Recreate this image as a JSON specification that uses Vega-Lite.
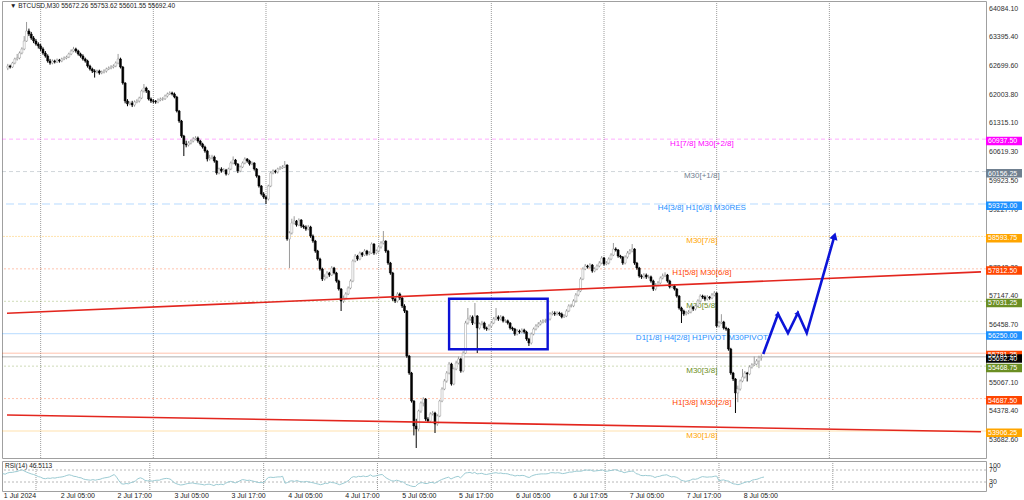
{
"$schema":"https://vega.github.io/schema/vega-lite/v6.json",
"padding":{"left":0,"top":0,"right":4,"bottom":2},"background":"white","spacing":1,
"config":{"view":{"stroke":"#a0a0a0","strokeWidth":1},"font":"Liberation Sans",
"axis":{"disable":true},
"text":{"font":"Liberation Sans"}},
"datasets":{
"days":[{"t":"2024-07-02T00:00Z"},{"t":"2024-07-03T00:00Z"},{"t":"2024-07-04T00:00Z"},{"t":"2024-07-05T00:00Z"},{"t":"2024-07-06T00:00Z"},{"t":"2024-07-07T00:00Z"},{"t":"2024-07-08T00:00Z"},{"t":"2024-07-09T00:00Z"}],
"xlabels":[{"t":"2024-07-01T17:00Z","lab":"1 Jul 2024"},{"t":"2024-07-02T05:00Z","lab":"2 Jul 05:00"},{"t":"2024-07-02T17:00Z","lab":"2 Jul 17:00"},{"t":"2024-07-03T05:00Z","lab":"3 Jul 05:00"},{"t":"2024-07-03T17:00Z","lab":"3 Jul 17:00"},{"t":"2024-07-04T05:00Z","lab":"4 Jul 05:00"},{"t":"2024-07-04T17:00Z","lab":"4 Jul 17:00"},{"t":"2024-07-05T05:00Z","lab":"5 Jul 05:00"},{"t":"2024-07-05T17:00Z","lab":"5 Jul 17:00"},{"t":"2024-07-06T05:00Z","lab":"6 Jul 05:00"},{"t":"2024-07-06T17:05Z","lab":"6 Jul 17:05"},{"t":"2024-07-07T05:00Z","lab":"7 Jul 05:00"},{"t":"2024-07-07T17:00Z","lab":"7 Jul 17:00"},{"t":"2024-07-08T05:00Z","lab":"8 Jul 05:00"}],
"yticks":[{"v":64084.1},{"v":63395.4},{"v":62699.6},{"v":62003.8},{"v":61315.1},{"v":60619.3},{"v":59923.5},{"v":59227.7},{"v":58531.9},{"v":57842.2},{"v":57147.4},{"v":56458.7},{"v":55762.9},{"v":55067.1},{"v":54378.4},{"v":53682.6}],
"levels":[
{"key":"m+2","price":60937.5,"tag":"60937.50","name":"H1[7/8] M30[+2/8]"},
{"key":"m+1","price":60156.25,"tag":"60156.25","name":"M30[+1/8]"},
{"key":"m8","price":59375,"tag":"59375.00","name":"H4[3/8] H1[6/8] M30RES"},
{"key":"m7","price":58593.75,"tag":"58593.75","name":"M30[7/8]"},
{"key":"m6","price":57812.5,"tag":"57812.50","name":"H1[5/8] M30[6/8]"},
{"key":"m5","price":57031.25,"tag":"57031.25","name":"M30[5/8]"},
{"key":"m4","price":56250,"tag":"56250.00","name":"D1[1/8] H4[2/8] H1PIVOT M30PIVOT"},
{"key":"h4","price":55781.25,"tag":"55781.25","name":""},
{"key":"m3","price":55468.75,"tag":"55468.75","name":"M30[3/8]"},
{"key":"m2","price":54687.5,"tag":"54687.50","name":"H1[3/8] M30[2/8]"},
{"key":"m1","price":53906.25,"tag":"53906.25","name":"M30[1/8]"},
{"key":"bid","price":55692.4,"tag":"55692.40","name":""}],
"trend":[{"g":"u","t":"2024-07-01T16:50Z","p":56744},{"g":"u","t":"2024-07-10T08:18Z","p":57739},{"g":"l","t":"2024-07-01T16:50Z","p":54292},{"g":"l","t":"2024-07-10T08:18Z","p":53889}],
"box":[{"t":"2024-07-05T15:00Z","t2":"2024-07-06T12:00Z","p":57093,"p2":55875}],
"arrow":[{"k":1,"t":"2024-07-08T09:55Z","p":55761,"head":""},{"k":2,"t":"2024-07-08T13:04Z","p":56725,"head":"a"},{"k":3,"t":"2024-07-08T15:11Z","p":56267,"head":""},{"k":4,"t":"2024-07-08T17:17Z","p":56749,"head":"b"},{"k":5,"t":"2024-07-08T19:11Z","p":56267,"head":""},{"k":6,"t":"2024-07-09T01:05Z","p":58604,"head":"c"}],
"bars":[
{"t":"2024-07-01T17:00Z","o":62650,"h":62750,"l":62600,"c":62699,"r":58},
{"t":"2024-07-01T17:30Z","o":62699,"h":62730,"l":62640,"c":62675,"r":56},
{"t":"2024-07-01T18:00Z","o":62675,"h":62800,"l":62650,"c":62771,"r":60},
{"t":"2024-07-01T18:30Z","o":62771,"h":62900,"l":62740,"c":62868,"r":62},
{"t":"2024-07-01T19:00Z","o":62868,"h":62990,"l":62830,"c":62892,"r":62},
{"t":"2024-07-01T19:30Z","o":62892,"h":63050,"l":62860,"c":63012,"r":64},
{"t":"2024-07-01T20:00Z","o":63012,"h":63150,"l":62980,"c":63109,"r":65},
{"t":"2024-07-01T20:30Z","o":63109,"h":63420,"l":63080,"c":63301,"r":68},
{"t":"2024-07-01T21:00Z","o":63301,"h":63760,"l":63280,"c":63542,"r":71},
{"t":"2024-07-01T21:30Z","o":63542,"h":63600,"l":63420,"c":63470,"r":67},
{"t":"2024-07-01T22:00Z","o":63470,"h":63520,"l":63330,"c":63374,"r":63},
{"t":"2024-07-01T22:30Z","o":63374,"h":63420,"l":63250,"c":63301,"r":60},
{"t":"2024-07-01T23:00Z","o":63301,"h":63350,"l":63190,"c":63229,"r":57},
{"t":"2024-07-01T23:30Z","o":63229,"h":63270,"l":63120,"c":63181,"r":55},
{"t":"2024-07-02T00:00Z","o":63181,"h":63230,"l":63060,"c":63109,"r":52},
{"t":"2024-07-02T00:30Z","o":63109,"h":63150,"l":62970,"c":63012,"r":48},
{"t":"2024-07-02T01:00Z","o":63012,"h":63060,"l":62900,"c":62940,"r":46},
{"t":"2024-07-02T01:30Z","o":62940,"h":62980,"l":62780,"c":62820,"r":42},
{"t":"2024-07-02T02:00Z","o":62820,"h":62870,"l":62730,"c":62771,"r":41},
{"t":"2024-07-02T02:30Z","o":62771,"h":62860,"l":62740,"c":62820,"r":43},
{"t":"2024-07-02T03:00Z","o":62820,"h":62850,"l":62760,"c":62796,"r":42},
{"t":"2024-07-02T03:30Z","o":62796,"h":62880,"l":62770,"c":62844,"r":44},
{"t":"2024-07-02T04:00Z","o":62844,"h":62870,"l":62780,"c":62820,"r":43},
{"t":"2024-07-02T04:30Z","o":62820,"h":62900,"l":62790,"c":62868,"r":45},
{"t":"2024-07-02T05:00Z","o":62868,"h":62930,"l":62840,"c":62892,"r":46},
{"t":"2024-07-02T05:30Z","o":62892,"h":62950,"l":62860,"c":62916,"r":47},
{"t":"2024-07-02T06:00Z","o":62916,"h":63020,"l":62890,"c":62988,"r":49},
{"t":"2024-07-02T06:30Z","o":62988,"h":63100,"l":62960,"c":63061,"r":52},
{"t":"2024-07-02T07:00Z","o":63061,"h":63160,"l":63030,"c":63109,"r":54},
{"t":"2024-07-02T07:30Z","o":63109,"h":63140,"l":63020,"c":63061,"r":52},
{"t":"2024-07-02T08:00Z","o":63061,"h":63090,"l":62950,"c":62988,"r":49},
{"t":"2024-07-02T08:30Z","o":62988,"h":63020,"l":62900,"c":62940,"r":48},
{"t":"2024-07-02T09:00Z","o":62940,"h":62980,"l":62830,"c":62868,"r":45},
{"t":"2024-07-02T09:30Z","o":62868,"h":62900,"l":62780,"c":62820,"r":44},
{"t":"2024-07-02T10:00Z","o":62820,"h":62850,"l":62660,"c":62699,"r":40},
{"t":"2024-07-02T10:30Z","o":62699,"h":62730,"l":62590,"c":62627,"r":38},
{"t":"2024-07-02T11:00Z","o":62627,"h":62660,"l":62530,"c":62579,"r":37},
{"t":"2024-07-02T11:30Z","o":62579,"h":62620,"l":62420,"c":62555,"r":36},
{"t":"2024-07-02T12:00Z","o":62555,"h":62610,"l":62520,"c":62579,"r":38},
{"t":"2024-07-02T12:30Z","o":62579,"h":62610,"l":62490,"c":62531,"r":36},
{"t":"2024-07-02T13:00Z","o":62531,"h":62590,"l":62500,"c":62555,"r":38},
{"t":"2024-07-02T13:30Z","o":62555,"h":62620,"l":62520,"c":62579,"r":39},
{"t":"2024-07-02T14:00Z","o":62579,"h":62660,"l":62540,"c":62627,"r":42},
{"t":"2024-07-02T14:30Z","o":62627,"h":62690,"l":62600,"c":62651,"r":44},
{"t":"2024-07-02T15:00Z","o":62651,"h":62720,"l":62620,"c":62675,"r":45},
{"t":"2024-07-02T15:30Z","o":62675,"h":62740,"l":62640,"c":62699,"r":47},
{"t":"2024-07-02T16:00Z","o":62699,"h":62810,"l":62670,"c":62771,"r":51},
{"t":"2024-07-02T16:30Z","o":62771,"h":62990,"l":62740,"c":62868,"r":55},
{"t":"2024-07-02T17:00Z","o":62868,"h":62900,"l":62640,"c":62675,"r":46},
{"t":"2024-07-02T17:30Z","o":62675,"h":62700,"l":62250,"c":62290,"r":34},
{"t":"2024-07-02T18:00Z","o":62290,"h":62310,"l":61800,"c":61856,"r":24},
{"t":"2024-07-02T18:30Z","o":61856,"h":61900,"l":61730,"c":61784,"r":23},
{"t":"2024-07-02T19:00Z","o":61784,"h":61850,"l":61750,"c":61808,"r":25},
{"t":"2024-07-02T19:30Z","o":61808,"h":61860,"l":61710,"c":61760,"r":24},
{"t":"2024-07-02T20:00Z","o":61760,"h":61870,"l":61720,"c":61832,"r":28},
{"t":"2024-07-02T20:30Z","o":61832,"h":61900,"l":61800,"c":61856,"r":30},
{"t":"2024-07-02T21:00Z","o":61856,"h":61960,"l":61820,"c":61928,"r":34},
{"t":"2024-07-02T21:30Z","o":61928,"h":62130,"l":61900,"c":62097,"r":41},
{"t":"2024-07-02T22:00Z","o":62097,"h":62265,"l":62060,"c":62169,"r":44},
{"t":"2024-07-02T22:30Z","o":62169,"h":62200,"l":62050,"c":62097,"r":41},
{"t":"2024-07-02T23:00Z","o":62097,"h":62120,"l":61870,"c":61904,"r":35},
{"t":"2024-07-02T23:30Z","o":61904,"h":61940,"l":61810,"c":61856,"r":34},
{"t":"2024-07-03T00:00Z","o":61856,"h":61900,"l":61800,"c":61850,"r":34},
{"t":"2024-07-03T00:30Z","o":61850,"h":61880,"l":61790,"c":61832,"r":33},
{"t":"2024-07-03T01:00Z","o":61832,"h":61920,"l":61800,"c":61880,"r":35},
{"t":"2024-07-03T01:30Z","o":61880,"h":61940,"l":61850,"c":61904,"r":36},
{"t":"2024-07-03T02:00Z","o":61904,"h":61950,"l":61860,"c":61910,"r":36},
{"t":"2024-07-03T02:30Z","o":61910,"h":62010,"l":61880,"c":61976,"r":39},
{"t":"2024-07-03T03:00Z","o":61976,"h":62060,"l":61940,"c":62025,"r":41},
{"t":"2024-07-03T03:30Z","o":62025,"h":62090,"l":62000,"c":62049,"r":42},
{"t":"2024-07-03T04:00Z","o":62049,"h":62080,"l":61990,"c":62025,"r":41},
{"t":"2024-07-03T04:30Z","o":62025,"h":62060,"l":61920,"c":61952,"r":38},
{"t":"2024-07-03T05:00Z","o":61952,"h":61980,"l":61580,"c":61615,"r":29},
{"t":"2024-07-03T05:30Z","o":61615,"h":61640,"l":61330,"c":61374,"r":25},
{"t":"2024-07-03T06:00Z","o":61374,"h":61400,"l":60970,"c":61013,"r":22},
{"t":"2024-07-03T06:30Z","o":61013,"h":61040,"l":60530,"c":60820,"r":20},
{"t":"2024-07-03T07:00Z","o":60820,"h":60900,"l":60740,"c":60796,"r":21},
{"t":"2024-07-03T07:30Z","o":60796,"h":60890,"l":60760,"c":60844,"r":23},
{"t":"2024-07-03T08:00Z","o":60844,"h":60930,"l":60810,"c":60892,"r":25},
{"t":"2024-07-03T08:30Z","o":60892,"h":60990,"l":60860,"c":60941,"r":26},
{"t":"2024-07-03T09:00Z","o":60941,"h":61010,"l":60910,"c":60965,"r":27},
{"t":"2024-07-03T09:30Z","o":60965,"h":61000,"l":60850,"c":60892,"r":25},
{"t":"2024-07-03T10:00Z","o":60892,"h":60920,"l":60780,"c":60820,"r":24},
{"t":"2024-07-03T10:30Z","o":60820,"h":60850,"l":60710,"c":60748,"r":23},
{"t":"2024-07-03T11:00Z","o":60748,"h":60780,"l":60610,"c":60652,"r":22},
{"t":"2024-07-03T11:30Z","o":60652,"h":60680,"l":60400,"c":60459,"r":20},
{"t":"2024-07-03T12:00Z","o":60459,"h":60560,"l":60420,"c":60483,"r":22},
{"t":"2024-07-03T12:30Z","o":60483,"h":60560,"l":60450,"c":60507,"r":23},
{"t":"2024-07-03T13:00Z","o":60507,"h":60540,"l":60370,"c":60411,"r":21},
{"t":"2024-07-03T13:30Z","o":60411,"h":60430,"l":60080,"c":60122,"r":18},
{"t":"2024-07-03T14:00Z","o":60122,"h":60250,"l":60090,"c":60218,"r":22},
{"t":"2024-07-03T14:30Z","o":60218,"h":60260,"l":60130,"c":60170,"r":21},
{"t":"2024-07-03T15:00Z","o":60170,"h":60240,"l":60140,"c":60194,"r":23},
{"t":"2024-07-03T15:30Z","o":60194,"h":60220,"l":60060,"c":60097,"r":21},
{"t":"2024-07-03T16:00Z","o":60097,"h":60250,"l":60070,"c":60218,"r":26},
{"t":"2024-07-03T16:30Z","o":60218,"h":60400,"l":60190,"c":60362,"r":30},
{"t":"2024-07-03T17:00Z","o":60362,"h":60520,"l":60330,"c":60435,"r":32},
{"t":"2024-07-03T17:30Z","o":60435,"h":60460,"l":60300,"c":60338,"r":30},
{"t":"2024-07-03T18:00Z","o":60338,"h":60360,"l":60120,"c":60170,"r":27},
{"t":"2024-07-03T18:30Z","o":60170,"h":60300,"l":60140,"c":60266,"r":30},
{"t":"2024-07-03T19:00Z","o":60266,"h":60400,"l":60240,"c":60362,"r":34},
{"t":"2024-07-03T19:30Z","o":60362,"h":60500,"l":60330,"c":60459,"r":38},
{"t":"2024-07-03T20:00Z","o":60459,"h":60480,"l":60370,"c":60411,"r":37},
{"t":"2024-07-03T20:30Z","o":60411,"h":60440,"l":60300,"c":60338,"r":35},
{"t":"2024-07-03T21:00Z","o":60338,"h":60400,"l":60310,"c":60362,"r":36},
{"t":"2024-07-03T21:30Z","o":60362,"h":60380,"l":60180,"c":60218,"r":34},
{"t":"2024-07-03T22:00Z","o":60218,"h":60240,"l":60010,"c":60049,"r":32},
{"t":"2024-07-03T22:30Z","o":60049,"h":60070,"l":59770,"c":59808,"r":30},
{"t":"2024-07-03T23:00Z","o":59808,"h":59830,"l":59580,"c":59616,"r":28},
{"t":"2024-07-03T23:30Z","o":59616,"h":59660,"l":59500,"c":59543,"r":28},
{"t":"2024-07-04T00:00Z","o":59543,"h":59580,"l":59375,"c":59495,"r":28},
{"t":"2024-07-04T00:30Z","o":59495,"h":59840,"l":59460,"c":59808,"r":38},
{"t":"2024-07-04T01:00Z","o":59808,"h":60160,"l":59780,"c":60122,"r":45},
{"t":"2024-07-04T01:30Z","o":60122,"h":60210,"l":60090,"c":60170,"r":46},
{"t":"2024-07-04T02:00Z","o":60170,"h":60200,"l":60110,"c":60146,"r":45},
{"t":"2024-07-04T02:30Z","o":60146,"h":60250,"l":60110,"c":60218,"r":46},
{"t":"2024-07-04T03:00Z","o":60218,"h":60290,"l":60200,"c":60242,"r":47},
{"t":"2024-07-04T03:30Z","o":60242,"h":60310,"l":60220,"c":60266,"r":47},
{"t":"2024-07-04T04:00Z","o":60266,"h":60410,"l":60240,"c":60314,"r":49},
{"t":"2024-07-04T04:30Z","o":60314,"h":60330,"l":58490,"c":58532,"r":26},
{"t":"2024-07-04T05:00Z","o":58532,"h":58720,"l":57833,"c":58676,"r":28},
{"t":"2024-07-04T05:30Z","o":58676,"h":59020,"l":58640,"c":58917,"r":33},
{"t":"2024-07-04T06:00Z","o":58917,"h":59080,"l":58880,"c":58965,"r":34},
{"t":"2024-07-04T06:30Z","o":58965,"h":58990,"l":58830,"c":58869,"r":32},
{"t":"2024-07-04T07:00Z","o":58869,"h":59030,"l":58840,"c":58989,"r":35},
{"t":"2024-07-04T07:30Z","o":58989,"h":59010,"l":58800,"c":58845,"r":32},
{"t":"2024-07-04T08:00Z","o":58845,"h":58880,"l":58780,"c":58821,"r":31},
{"t":"2024-07-04T08:30Z","o":58821,"h":58860,"l":58730,"c":58772,"r":30},
{"t":"2024-07-04T09:00Z","o":58772,"h":58870,"l":58740,"c":58821,"r":32},
{"t":"2024-07-04T09:30Z","o":58821,"h":58850,"l":58560,"c":58604,"r":30},
{"t":"2024-07-04T10:00Z","o":58604,"h":58640,"l":58440,"c":58483,"r":29},
{"t":"2024-07-04T10:30Z","o":58483,"h":58510,"l":58200,"c":58243,"r":27},
{"t":"2024-07-04T11:00Z","o":58243,"h":58270,"l":58010,"c":58050,"r":25},
{"t":"2024-07-04T11:30Z","o":58050,"h":58080,"l":57770,"c":57809,"r":23},
{"t":"2024-07-04T12:00Z","o":57809,"h":57840,"l":57520,"c":57568,"r":21},
{"t":"2024-07-04T12:30Z","o":57568,"h":57680,"l":57530,"c":57616,"r":23},
{"t":"2024-07-04T13:00Z","o":57616,"h":57760,"l":57580,"c":57713,"r":26},
{"t":"2024-07-04T13:30Z","o":57713,"h":57740,"l":57620,"c":57664,"r":25},
{"t":"2024-07-04T14:00Z","o":57664,"h":57880,"l":57640,"c":57833,"r":30},
{"t":"2024-07-04T14:30Z","o":57833,"h":57860,"l":57680,"c":57713,"r":28},
{"t":"2024-07-04T15:00Z","o":57713,"h":57740,"l":57480,"c":57520,"r":27},
{"t":"2024-07-04T15:30Z","o":57520,"h":57550,"l":57290,"c":57327,"r":24},
{"t":"2024-07-04T16:00Z","o":57327,"h":57350,"l":56797,"c":57038,"r":21},
{"t":"2024-07-04T16:30Z","o":57038,"h":57170,"l":56990,"c":57110,"r":24},
{"t":"2024-07-04T17:00Z","o":57110,"h":57250,"l":57080,"c":57207,"r":27},
{"t":"2024-07-04T17:30Z","o":57207,"h":57390,"l":57180,"c":57351,"r":31},
{"t":"2024-07-04T18:00Z","o":57351,"h":57560,"l":57320,"c":57520,"r":36},
{"t":"2024-07-04T18:30Z","o":57520,"h":58040,"l":57490,"c":58002,"r":45},
{"t":"2024-07-04T19:00Z","o":58002,"h":58170,"l":57970,"c":58122,"r":48},
{"t":"2024-07-04T19:30Z","o":58122,"h":58150,"l":58010,"c":58050,"r":46},
{"t":"2024-07-04T20:00Z","o":58050,"h":58230,"l":58020,"c":58194,"r":49},
{"t":"2024-07-04T20:30Z","o":58194,"h":58220,"l":58100,"c":58146,"r":48},
{"t":"2024-07-04T21:00Z","o":58146,"h":58290,"l":58120,"c":58243,"r":50},
{"t":"2024-07-04T21:30Z","o":58243,"h":58270,"l":58130,"c":58170,"r":48},
{"t":"2024-07-04T22:00Z","o":58170,"h":58240,"l":58140,"c":58194,"r":49},
{"t":"2024-07-04T22:30Z","o":58194,"h":58450,"l":58170,"c":58411,"r":54},
{"t":"2024-07-04T23:00Z","o":58411,"h":58430,"l":58150,"c":58194,"r":49},
{"t":"2024-07-04T23:30Z","o":58194,"h":58280,"l":58160,"c":58243,"r":50},
{"t":"2024-07-05T00:00Z","o":58243,"h":58380,"l":58210,"c":58339,"r":52},
{"t":"2024-07-05T00:30Z","o":58339,"h":58480,"l":58300,"c":58435,"r":54},
{"t":"2024-07-05T01:00Z","o":58435,"h":58724,"l":58400,"c":58483,"r":55},
{"t":"2024-07-05T01:30Z","o":58483,"h":58500,"l":58200,"c":58243,"r":48},
{"t":"2024-07-05T02:00Z","o":58243,"h":58270,"l":57910,"c":57953,"r":42},
{"t":"2024-07-05T02:30Z","o":57953,"h":57980,"l":57670,"c":57713,"r":38},
{"t":"2024-07-05T03:00Z","o":57713,"h":57740,"l":57040,"c":57086,"r":34},
{"t":"2024-07-05T03:30Z","o":57086,"h":57120,"l":56990,"c":57038,"r":33},
{"t":"2024-07-05T04:00Z","o":57038,"h":57250,"l":57000,"c":57207,"r":36},
{"t":"2024-07-05T04:30Z","o":57207,"h":57240,"l":57060,"c":57110,"r":34},
{"t":"2024-07-05T05:00Z","o":57110,"h":57140,"l":56870,"c":56918,"r":31},
{"t":"2024-07-05T05:30Z","o":56918,"h":56960,"l":56750,"c":56797,"r":30},
{"t":"2024-07-05T06:00Z","o":56797,"h":56820,"l":55670,"c":55713,"r":22},
{"t":"2024-07-05T06:30Z","o":55713,"h":55740,"l":55260,"c":55304,"r":20},
{"t":"2024-07-05T07:00Z","o":55304,"h":55330,"l":54590,"c":54629,"r":17},
{"t":"2024-07-05T07:30Z","o":54629,"h":54650,"l":53800,"c":54027,"r":15},
{"t":"2024-07-05T08:00Z","o":54027,"h":54200,"l":53497,"c":53954,"r":15},
{"t":"2024-07-05T08:30Z","o":53954,"h":54420,"l":53900,"c":54388,"r":23},
{"t":"2024-07-05T09:00Z","o":54388,"h":54620,"l":54340,"c":54581,"r":27},
{"t":"2024-07-05T09:30Z","o":54581,"h":54720,"l":54500,"c":54677,"r":28},
{"t":"2024-07-05T10:00Z","o":54677,"h":54700,"l":54150,"c":54195,"r":25},
{"t":"2024-07-05T10:30Z","o":54195,"h":54240,"l":54100,"c":54147,"r":25},
{"t":"2024-07-05T11:00Z","o":54147,"h":54360,"l":54110,"c":54316,"r":28},
{"t":"2024-07-05T11:30Z","o":54316,"h":54390,"l":54280,"c":54340,"r":29},
{"t":"2024-07-05T12:00Z","o":54340,"h":54370,"l":53858,"c":54075,"r":26},
{"t":"2024-07-05T12:30Z","o":54075,"h":54310,"l":54030,"c":54268,"r":29},
{"t":"2024-07-05T13:00Z","o":54268,"h":54660,"l":54240,"c":54629,"r":34},
{"t":"2024-07-05T13:30Z","o":54629,"h":54960,"l":54600,"c":54918,"r":38},
{"t":"2024-07-05T14:00Z","o":54918,"h":55160,"l":54890,"c":55111,"r":41},
{"t":"2024-07-05T14:30Z","o":55111,"h":55350,"l":55070,"c":55304,"r":44},
{"t":"2024-07-05T15:00Z","o":55304,"h":55570,"l":55270,"c":55520,"r":46},
{"t":"2024-07-05T15:30Z","o":55520,"h":55550,"l":55000,"c":55039,"r":40},
{"t":"2024-07-05T16:00Z","o":55039,"h":55440,"l":55010,"c":55400,"r":44},
{"t":"2024-07-05T16:30Z","o":55400,"h":55600,"l":55370,"c":55544,"r":47},
{"t":"2024-07-05T17:00Z","o":55544,"h":55700,"l":55510,"c":55641,"r":49},
{"t":"2024-07-05T17:30Z","o":55641,"h":55670,"l":55310,"c":55352,"r":44},
{"t":"2024-07-05T18:00Z","o":55352,"h":55830,"l":55320,"c":55785,"r":51},
{"t":"2024-07-05T18:30Z","o":55785,"h":56560,"l":55760,"c":56508,"r":60},
{"t":"2024-07-05T19:00Z","o":56508,"h":56869,"l":56470,"c":56604,"r":61},
{"t":"2024-07-05T19:30Z","o":56604,"h":56700,"l":56560,"c":56653,"r":62},
{"t":"2024-07-05T20:00Z","o":56653,"h":56690,"l":56460,"c":56508,"r":59},
{"t":"2024-07-05T20:30Z","o":56508,"h":56990,"l":56480,"c":56677,"r":62},
{"t":"2024-07-05T21:00Z","o":56677,"h":56700,"l":55785,"c":56388,"r":57},
{"t":"2024-07-05T21:30Z","o":56388,"h":56520,"l":56350,"c":56484,"r":58},
{"t":"2024-07-05T22:00Z","o":56484,"h":56560,"l":56450,"c":56508,"r":59},
{"t":"2024-07-05T22:30Z","o":56508,"h":56540,"l":56350,"c":56388,"r":56},
{"t":"2024-07-05T23:00Z","o":56388,"h":56420,"l":56320,"c":56363,"r":55},
{"t":"2024-07-05T23:30Z","o":56363,"h":56480,"l":56330,"c":56436,"r":57},
{"t":"2024-07-06T00:00Z","o":56436,"h":56550,"l":56400,"c":56508,"r":58},
{"t":"2024-07-06T00:30Z","o":56508,"h":56650,"l":56480,"c":56604,"r":60},
{"t":"2024-07-06T01:00Z","o":56604,"h":56870,"l":56570,"c":56653,"r":61},
{"t":"2024-07-06T01:30Z","o":56653,"h":56690,"l":56560,"c":56604,"r":59},
{"t":"2024-07-06T02:00Z","o":56604,"h":56700,"l":56570,"c":56653,"r":60},
{"t":"2024-07-06T02:30Z","o":56653,"h":56680,"l":56520,"c":56556,"r":58},
{"t":"2024-07-06T03:00Z","o":56556,"h":56600,"l":56510,"c":56560,"r":58},
{"t":"2024-07-06T03:30Z","o":56560,"h":56590,"l":56470,"c":56508,"r":57},
{"t":"2024-07-06T04:00Z","o":56508,"h":56530,"l":56350,"c":56388,"r":54},
{"t":"2024-07-06T04:30Z","o":56388,"h":56420,"l":56320,"c":56363,"r":53},
{"t":"2024-07-06T05:00Z","o":56363,"h":56390,"l":56200,"c":56243,"r":50},
{"t":"2024-07-06T05:30Z","o":56243,"h":56360,"l":56210,"c":56315,"r":52},
{"t":"2024-07-06T06:00Z","o":56315,"h":56350,"l":56250,"c":56291,"r":51},
{"t":"2024-07-06T06:30Z","o":56291,"h":56380,"l":56260,"c":56339,"r":52},
{"t":"2024-07-06T07:00Z","o":56339,"h":56370,"l":56250,"c":56291,"r":51},
{"t":"2024-07-06T07:30Z","o":56291,"h":56320,"l":56080,"c":56123,"r":47},
{"t":"2024-07-06T08:00Z","o":56123,"h":56150,"l":55954,"c":56026,"r":45},
{"t":"2024-07-06T08:30Z","o":56026,"h":56280,"l":55990,"c":56243,"r":50},
{"t":"2024-07-06T09:00Z","o":56243,"h":56400,"l":56210,"c":56363,"r":53},
{"t":"2024-07-06T09:30Z","o":56363,"h":56480,"l":56330,"c":56436,"r":55},
{"t":"2024-07-06T10:00Z","o":56436,"h":56530,"l":56400,"c":56484,"r":56},
{"t":"2024-07-06T10:30Z","o":56484,"h":56580,"l":56450,"c":56532,"r":57},
{"t":"2024-07-06T11:00Z","o":56532,"h":56600,"l":56500,"c":56556,"r":57},
{"t":"2024-07-06T11:30Z","o":56556,"h":56610,"l":56510,"c":56560,"r":57},
{"t":"2024-07-06T12:00Z","o":56560,"h":56650,"l":56520,"c":56604,"r":58},
{"t":"2024-07-06T12:30Z","o":56604,"h":56770,"l":56570,"c":56725,"r":61},
{"t":"2024-07-06T13:00Z","o":56725,"h":56800,"l":56690,"c":56749,"r":61},
{"t":"2024-07-06T13:30Z","o":56749,"h":56790,"l":56680,"c":56725,"r":60},
{"t":"2024-07-06T14:00Z","o":56725,"h":56790,"l":56690,"c":56749,"r":61},
{"t":"2024-07-06T14:30Z","o":56749,"h":56780,"l":56680,"c":56725,"r":60},
{"t":"2024-07-06T15:00Z","o":56725,"h":56760,"l":56620,"c":56653,"r":58},
{"t":"2024-07-06T15:30Z","o":56653,"h":56720,"l":56630,"c":56677,"r":59},
{"t":"2024-07-06T16:00Z","o":56677,"h":56840,"l":56650,"c":56797,"r":61},
{"t":"2024-07-06T16:30Z","o":56797,"h":56960,"l":56770,"c":56918,"r":63},
{"t":"2024-07-06T17:00Z","o":56918,"h":56970,"l":56880,"c":56920,"r":63},
{"t":"2024-07-06T17:30Z","o":56920,"h":57080,"l":56890,"c":57038,"r":65},
{"t":"2024-07-06T18:00Z","o":57038,"h":57230,"l":57000,"c":57183,"r":66},
{"t":"2024-07-06T18:30Z","o":57183,"h":57320,"l":57150,"c":57279,"r":66},
{"t":"2024-07-06T19:00Z","o":57279,"h":57610,"l":57250,"c":57568,"r":66},
{"t":"2024-07-06T19:30Z","o":57568,"h":57850,"l":57540,"c":57809,"r":69},
{"t":"2024-07-06T20:00Z","o":57809,"h":57930,"l":57780,"c":57881,"r":70},
{"t":"2024-07-06T20:30Z","o":57881,"h":57910,"l":57820,"c":57857,"r":69},
{"t":"2024-07-06T21:00Z","o":57857,"h":57950,"l":57820,"c":57905,"r":70},
{"t":"2024-07-06T21:30Z","o":57905,"h":57930,"l":57720,"c":57761,"r":66},
{"t":"2024-07-06T22:00Z","o":57761,"h":57850,"l":57730,"c":57809,"r":67},
{"t":"2024-07-06T22:30Z","o":57809,"h":57920,"l":57780,"c":57881,"r":68},
{"t":"2024-07-06T23:00Z","o":57881,"h":58000,"l":57850,"c":57953,"r":69},
{"t":"2024-07-06T23:30Z","o":57953,"h":58120,"l":57920,"c":58074,"r":70},
{"t":"2024-07-07T00:00Z","o":58074,"h":58100,"l":57890,"c":57929,"r":66},
{"t":"2024-07-07T00:30Z","o":57929,"h":58000,"l":57900,"c":57953,"r":66},
{"t":"2024-07-07T01:00Z","o":57953,"h":58090,"l":57920,"c":58050,"r":68},
{"t":"2024-07-07T01:30Z","o":58050,"h":58190,"l":58020,"c":58146,"r":69},
{"t":"2024-07-07T02:00Z","o":58146,"h":58435,"l":58120,"c":58291,"r":71},
{"t":"2024-07-07T02:30Z","o":58291,"h":58330,"l":58230,"c":58267,"r":70},
{"t":"2024-07-07T03:00Z","o":58267,"h":58290,"l":58080,"c":58122,"r":66},
{"t":"2024-07-07T03:30Z","o":58122,"h":58150,"l":58060,"c":58098,"r":65},
{"t":"2024-07-07T04:00Z","o":58098,"h":58120,"l":57910,"c":57953,"r":61},
{"t":"2024-07-07T04:30Z","o":57953,"h":58140,"l":57920,"c":58098,"r":63},
{"t":"2024-07-07T05:00Z","o":58098,"h":58240,"l":58060,"c":58194,"r":65},
{"t":"2024-07-07T05:30Z","o":58194,"h":58290,"l":58160,"c":58243,"r":66},
{"t":"2024-07-07T06:00Z","o":58243,"h":58410,"l":58210,"c":58291,"r":66},
{"t":"2024-07-07T06:30Z","o":58291,"h":58310,"l":57910,"c":57953,"r":58},
{"t":"2024-07-07T07:00Z","o":57953,"h":57980,"l":57790,"c":57833,"r":56},
{"t":"2024-07-07T07:30Z","o":57833,"h":57860,"l":57600,"c":57640,"r":52},
{"t":"2024-07-07T08:00Z","o":57640,"h":57680,"l":57570,"c":57616,"r":51},
{"t":"2024-07-07T08:30Z","o":57616,"h":57710,"l":57580,"c":57664,"r":52},
{"t":"2024-07-07T09:00Z","o":57664,"h":57700,"l":57570,"c":57616,"r":51},
{"t":"2024-07-07T09:30Z","o":57616,"h":57670,"l":57580,"c":57620,"r":51},
{"t":"2024-07-07T10:00Z","o":57620,"h":57650,"l":57480,"c":57520,"r":49},
{"t":"2024-07-07T10:30Z","o":57520,"h":57550,"l":57280,"c":57327,"r":45},
{"t":"2024-07-07T11:00Z","o":57327,"h":57470,"l":57290,"c":57423,"r":48},
{"t":"2024-07-07T11:30Z","o":57423,"h":57520,"l":57390,"c":57472,"r":49},
{"t":"2024-07-07T12:00Z","o":57472,"h":57630,"l":57440,"c":57592,"r":52},
{"t":"2024-07-07T12:30Z","o":57592,"h":57700,"l":57560,"c":57640,"r":53},
{"t":"2024-07-07T13:00Z","o":57640,"h":57730,"l":57620,"c":57664,"r":54},
{"t":"2024-07-07T13:30Z","o":57664,"h":57690,"l":57480,"c":57520,"r":50},
{"t":"2024-07-07T14:00Z","o":57520,"h":57550,"l":57340,"c":57375,"r":47},
{"t":"2024-07-07T14:30Z","o":57375,"h":57450,"l":57350,"c":57399,"r":48},
{"t":"2024-07-07T15:00Z","o":57399,"h":57430,"l":57290,"c":57327,"r":46},
{"t":"2024-07-07T15:30Z","o":57327,"h":57350,"l":57120,"c":57158,"r":42},
{"t":"2024-07-07T16:00Z","o":57158,"h":57180,"l":56830,"c":56869,"r":36},
{"t":"2024-07-07T16:30Z","o":56869,"h":56900,"l":56508,"c":56797,"r":34},
{"t":"2024-07-07T17:00Z","o":56797,"h":56830,"l":56680,"c":56725,"r":32},
{"t":"2024-07-07T17:30Z","o":56725,"h":56800,"l":56690,"c":56749,"r":34},
{"t":"2024-07-07T18:00Z","o":56749,"h":56820,"l":56720,"c":56773,"r":36},
{"t":"2024-07-07T18:30Z","o":56773,"h":56940,"l":56740,"c":56893,"r":40},
{"t":"2024-07-07T19:00Z","o":56893,"h":56920,"l":56800,"c":56845,"r":39},
{"t":"2024-07-07T19:30Z","o":56845,"h":56960,"l":56810,"c":56918,"r":41},
{"t":"2024-07-07T20:00Z","o":56918,"h":57080,"l":56890,"c":57038,"r":45},
{"t":"2024-07-07T20:30Z","o":57038,"h":57200,"l":57000,"c":57158,"r":48},
{"t":"2024-07-07T21:00Z","o":57158,"h":57190,"l":57090,"c":57134,"r":47},
{"t":"2024-07-07T21:30Z","o":57134,"h":57170,"l":57040,"c":57086,"r":46},
{"t":"2024-07-07T22:00Z","o":57086,"h":57180,"l":57050,"c":57134,"r":47},
{"t":"2024-07-07T22:30Z","o":57134,"h":57160,"l":57070,"c":57110,"r":47},
{"t":"2024-07-07T23:00Z","o":57110,"h":57230,"l":57080,"c":57183,"r":49},
{"t":"2024-07-07T23:30Z","o":57183,"h":57280,"l":57150,"c":57231,"r":50},
{"t":"2024-07-08T00:00Z","o":57231,"h":57250,"l":56400,"c":56436,"r":34},
{"t":"2024-07-08T00:30Z","o":56436,"h":56560,"l":56400,"c":56508,"r":36},
{"t":"2024-07-08T01:00Z","o":56508,"h":56720,"l":56480,"c":56532,"r":37},
{"t":"2024-07-08T01:30Z","o":56532,"h":56560,"l":56350,"c":56388,"r":34},
{"t":"2024-07-08T02:00Z","o":56388,"h":56420,"l":56320,"c":56363,"r":33},
{"t":"2024-07-08T02:30Z","o":56363,"h":56390,"l":55840,"c":55882,"r":28},
{"t":"2024-07-08T03:00Z","o":55882,"h":55910,"l":55260,"c":55304,"r":24},
{"t":"2024-07-08T03:30Z","o":55304,"h":55330,"l":55110,"c":55159,"r":23},
{"t":"2024-07-08T04:00Z","o":55159,"h":55180,"l":54340,"c":54822,"r":21},
{"t":"2024-07-08T04:30Z","o":54822,"h":55000,"l":54600,"c":54918,"r":23},
{"t":"2024-07-08T05:00Z","o":54918,"h":55150,"l":54880,"c":55111,"r":26},
{"t":"2024-07-08T05:30Z","o":55111,"h":55400,"l":55080,"c":55207,"r":29},
{"t":"2024-07-08T06:00Z","o":55207,"h":55350,"l":55170,"c":55304,"r":31},
{"t":"2024-07-08T06:30Z","o":55304,"h":55330,"l":55100,"c":55279,"r":31},
{"t":"2024-07-08T07:00Z","o":55279,"h":55490,"l":55250,"c":55448,"r":36},
{"t":"2024-07-08T07:30Z","o":55448,"h":55540,"l":55410,"c":55496,"r":38},
{"t":"2024-07-08T08:00Z","o":55496,"h":55700,"l":55470,"c":55520,"r":39},
{"t":"2024-07-08T08:30Z","o":55520,"h":55640,"l":55490,"c":55593,"r":42},
{"t":"2024-07-08T09:00Z","o":55593,"h":55720,"l":55420,"c":55672.26,"r":45},
{"t":"2024-07-08T09:30Z","o":55672.26,"h":55753.62,"l":55601.55,"c":55692.4,"r":46.51}
]},
"vconcat":[
{"width":984,"height":457,
"layer":[
{"data":{"name":"days"},"mark":{"type":"rule","color":"#9c9c9c","strokeDash":[1,1],"strokeWidth":1},
 "encoding":{"x":{"field":"t","type":"temporal","scale":{"type":"utc","domain":[{"year":2024,"month":7,"date":1,"hours":16,"minutes":50,"utc":true},{"year":2024,"month":7,"date":10,"hours":8,"minutes":18,"utc":true}]}}}},
{"data":{"name":"levels"},"mark":{"type":"rule","strokeWidth":1,"opacity":0.32},
 "encoding":{"y":{"field":"price","type":"quantitative","scale":{"domain":[53256,64265],"zero":false,"nice":false}},
  "color":{"field":"key","type":"nominal","scale":{"domain":["m+2","m+1","m8","m7","m6","m5","m4","h4","m3","m2","m1","bid"],"range":["#ff00ff","#708090","#1e90ff","#ffa500","#ff4500","#6b8e23","#1e90ff","#ff4500","#6b8e23","#ff4500","#ffa500","#000000"]},"legend":null},
  "strokeDash":{"field":"key","type":"nominal","scale":{"domain":["m+2","m+1","m8","m7","m6","m5","m4","h4","m3","m2","m1","bid"],"range":[[4,3],[4,3],[8,4],[2,1],[2,2],[2,2],[1,0],[1,0],[2,2],[2,2],[1,0],[1,0]]},"legend":null}}},
{"data":{"name":"levels"},"transform":[{"filter":"datum.name != ''"}],
 "mark":{"type":"text","align":"center","baseline":"top","fontSize":8,"dy":0.5},
 "encoding":{"x":{"datum":{"year":2024,"month":7,"date":7,"hours":20,"minutes":50,"utc":true},"type":"temporal","scale":{"type":"utc"}},
  "y":{"field":"price","type":"quantitative","scale":{"domain":[53256,64265],"zero":false,"nice":false}},
  "text":{"field":"name"},
  "color":{"field":"key","type":"nominal","legend":null}}},
{"data":{"name":"bars"},"mark":{"type":"rule","strokeWidth":1},
 "encoding":{"x":{"field":"t","type":"temporal","scale":{"type":"utc"}},
  "y":{"field":"l","type":"quantitative","scale":{"domain":[53256,64265],"zero":false,"nice":false}},
  "y2":{"field":"h"},
  "color":{"condition":{"test":"datum.c >= datum.o","value":"#9a9a9a"},"value":"#000000"}}},
{"data":{"name":"bars"},"mark":{"type":"bar","width":2,"strokeWidth":0.5},
 "encoding":{"x":{"field":"t","type":"temporal","scale":{"type":"utc"}},
  "y":{"field":"o","type":"quantitative","scale":{"domain":[53256,64265],"zero":false,"nice":false}},
  "y2":{"field":"c"},
  "fill":{"condition":{"test":"datum.c >= datum.o","value":"#ffffff"},"value":"#000000"},
  "stroke":{"condition":{"test":"datum.c >= datum.o","value":"#9a9a9a"},"value":"#000000"}}},
{"data":{"name":"trend"},"mark":{"type":"line","color":"#e3261e","strokeWidth":1.6,"clip":true},
 "encoding":{"x":{"field":"t","type":"temporal","scale":{"type":"utc"}},
  "y":{"field":"p","type":"quantitative","scale":{"domain":[53256,64265],"zero":false,"nice":false}},
  "detail":{"field":"g"}}},
{"data":{"name":"box","format":{"parse":{"t":"date","t2":"date"}}},"mark":{"type":"rect","filled":false,"stroke":"#0c12d6","strokeWidth":2.4},
 "encoding":{"x":{"field":"t","type":"temporal","scale":{"type":"utc"}},"x2":{"field":"t2"},
  "y":{"field":"p","type":"quantitative","scale":{"domain":[53256,64265],"zero":false,"nice":false}},"y2":{"field":"p2"}}},
{"data":{"name":"arrow"},"mark":{"type":"line","color":"#0c14d8","strokeWidth":2.6,"strokeJoin":"miter"},
 "encoding":{"x":{"field":"t","type":"temporal","scale":{"type":"utc"}},
  "y":{"field":"p","type":"quantitative","scale":{"domain":[53256,64265],"zero":false,"nice":false}},
  "order":{"field":"k"}}},
{"data":{"name":"arrow"},"transform":[{"filter":"datum.head == 'c'"}],"mark":{"type":"point","shape":"triangle-up","filled":true,"color":"#0c14d8","opacity":1,"size":70,"angle":16},
 "encoding":{"x":{"field":"t","type":"temporal","scale":{"type":"utc"}},
  "y":{"field":"p","type":"quantitative","scale":{"domain":[53256,64265],"zero":false,"nice":false}}}},
{"data":{"name":"arrow"},"transform":[{"filter":"datum.head == 'a'"}],"mark":{"type":"point","shape":"triangle-up","filled":true,"color":"#0c14d8","opacity":1,"size":30,"angle":21},
 "encoding":{"x":{"field":"t","type":"temporal","scale":{"type":"utc"}},
  "y":{"field":"p","type":"quantitative","scale":{"domain":[53256,64265],"zero":false,"nice":false}}}},
{"data":{"name":"arrow"},"transform":[{"filter":"datum.head == 'b'"}],"mark":{"type":"point","shape":"triangle-up","filled":true,"color":"#0c14d8","opacity":1,"size":30,"angle":27},
 "encoding":{"x":{"field":"t","type":"temporal","scale":{"type":"utc"}},
  "y":{"field":"p","type":"quantitative","scale":{"domain":[53256,64265],"zero":false,"nice":false}}}},
{"data":{"values":[{}]},"mark":{"type":"text","align":"left","baseline":"middle","dx":3,"fontSize":6.5,"color":"#202020","text":"▼  BTCUSD,M30  55672.26 55753.62 55601.55 55692.40"},
 "encoding":{"x":{"datum":{"year":2024,"month":7,"date":1,"hours":16,"minutes":50,"utc":true},"type":"temporal","scale":{"type":"utc"}},
  "y":{"datum":64145,"type":"quantitative","scale":{"domain":[53256,64265],"zero":false,"nice":false}}}},
{"data":{"name":"yticks"},"mark":{"type":"text","align":"left","baseline":"middle","dx":3,"fontSize":7,"color":"#303030"},
 "encoding":{"x":{"value":"width"},
  "y":{"field":"v","type":"quantitative","scale":{"domain":[53256,64265],"zero":false,"nice":false}},
  "text":{"field":"v","type":"quantitative","format":".2f"}}},
{"data":{"name":"levels"},"mark":{"type":"rect","x2Offset":36,"yOffset":-2.5,"y2Offset":6},
 "encoding":{"x":{"value":"width"},"x2":{"value":"width"},
  "y":{"field":"price","type":"quantitative","scale":{"domain":[53256,64265],"zero":false,"nice":false}},"y2":{"field":"price"},
  "color":{"field":"key","type":"nominal","legend":null}}},
{"data":{"name":"levels"},"mark":{"type":"text","align":"left","baseline":"middle","dx":2,"dy":2,"fontSize":7,"color":"#ffffff"},
 "encoding":{"x":{"value":"width"},
  "y":{"field":"price","type":"quantitative","scale":{"domain":[53256,64265],"zero":false,"nice":false}},
  "text":{"field":"tag"}}}
]},
{"width":984,"height":30,
"layer":[
{"data":{"name":"days"},"mark":{"type":"rule","color":"#9c9c9c","strokeDash":[1,1],"strokeWidth":1},
 "encoding":{"x":{"field":"t","type":"temporal","scale":{"type":"utc","domain":[{"year":2024,"month":7,"date":1,"hours":16,"minutes":50,"utc":true},{"year":2024,"month":7,"date":10,"hours":8,"minutes":18,"utc":true}]}}}},
{"data":{"values":[{"v":30},{"v":70}]},"mark":{"type":"rule","color":"#b8b8b8","strokeDash":[2,2],"strokeWidth":1},
 "encoding":{"y":{"field":"v","type":"quantitative","scale":{"domain":[0,100],"nice":false,"zero":false}}}},
{"data":{"name":"bars"},"mark":{"type":"line","color":"#9ccbd3","strokeWidth":1},
 "encoding":{"x":{"field":"t","type":"temporal","scale":{"type":"utc"}},
  "y":{"field":"r","type":"quantitative","scale":{"domain":[0,100],"nice":false,"zero":false}}}},
{"data":{"values":[{}]},"mark":{"type":"text","align":"left","baseline":"middle","dx":3,"fontSize":6.5,"color":"#202020","text":"RSI(14) 46.5113"},
 "encoding":{"x":{"datum":{"year":2024,"month":7,"date":1,"hours":16,"minutes":50,"utc":true},"type":"temporal","scale":{"type":"utc"}},
  "y":{"datum":84,"type":"quantitative","scale":{"domain":[0,100],"nice":false,"zero":false}}}},
{"data":{"values":[{"v":70,"lab":"70"},{"v":30,"lab":"30"}]},"mark":{"type":"text","align":"left","baseline":"middle","dx":3,"fontSize":7,"color":"#303030"},
 "encoding":{"x":{"value":"width"},"y":{"field":"v","type":"quantitative","scale":{"domain":[0,100],"nice":false,"zero":false}},"text":{"field":"lab"}}},
{"data":{"values":[{"v":100,"lab":"100"}]},"mark":{"type":"text","align":"left","baseline":"middle","dx":3,"dy":5,"fontSize":7,"color":"#303030"},
 "encoding":{"x":{"value":"width"},"y":{"field":"v","type":"quantitative","scale":{"domain":[0,100],"nice":false,"zero":false}},"text":{"field":"lab"}}},
{"data":{"values":[{"v":0,"lab":"0"}]},"mark":{"type":"text","align":"left","baseline":"middle","dx":3,"dy":-5,"fontSize":7,"color":"#303030"},
 "encoding":{"x":{"value":"width"},"y":{"field":"v","type":"quantitative","scale":{"domain":[0,100],"nice":false,"zero":false}},"text":{"field":"lab"}}},
{"data":{"name":"xlabels"},"mark":{"type":"text","align":"left","baseline":"top","dx":1,"dy":1,"fontSize":7,"color":"#202020"},
 "encoding":{"x":{"field":"t","type":"temporal","scale":{"type":"utc"}},
  "y":{"datum":0,"type":"quantitative","scale":{"domain":[0,100],"nice":false,"zero":false}},
  "text":{"field":"lab"}}}
]}
]}
